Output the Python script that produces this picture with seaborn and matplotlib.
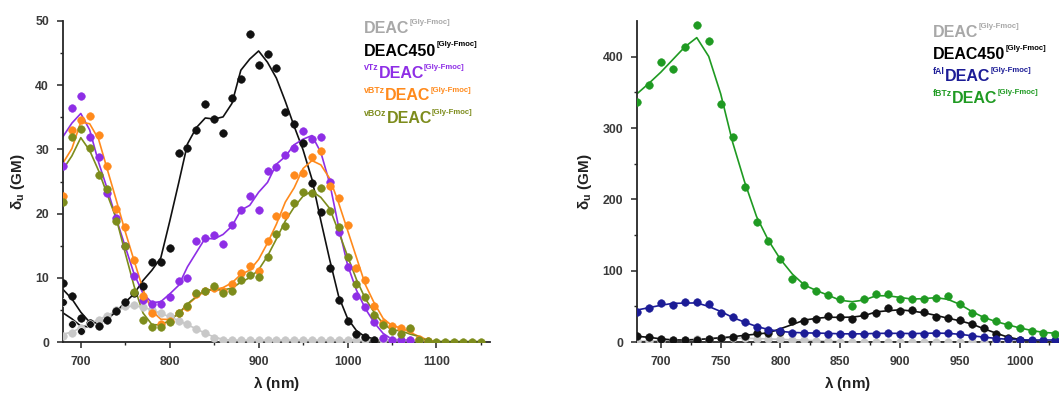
import numpy as np
import pandas as pd
import matplotlib
matplotlib.use("Agg")
import matplotlib.pyplot as plt
import seaborn as sns

# wavelength grid (nm), one point every 10 nm
wl = list(range(680, 1160, 10))

# left panel series (GM)
deac = [1.0, 1.5, 2.2, 3.0, 3.5, 4.0, 5.0, 5.6, 5.8, 5.5, 5.0, 4.5, 4.0, 3.3, 2.8, 2.0,
        1.4, 0.7, 0.3, 0.3, 0.3, 0.3, 0.3, 0.3, 0.3, 0.3, 0.3, 0.3, 0.3, 0.3, 0.3, 0.3,
        0.3, 0.3, 0.3, 0.3, 0.3, 0.3, 0.3, 0.3, 0.3]
deac450 = [9.2, 7.2, 3.8, 3.0, 2.5, 3.4, 4.8, 6.2, 7.6, 8.8, 12.4, 12.4, 14.6, 29.4,
           30.2, 33.0, 37.0, 34.7, 32.5, 38.0, 41.0, 48.0, 43.2, 44.8, 42.7, 35.8, 34.0,
           31.0, 24.8, 20.3, 11.6, 6.5, 3.3, 1.3, 0.8, 0.3]
deac450_rep = [6.3, 2.8, 1.8, 2.9]
vtz = [27.5, 36.5, 38.3, 32.0, 28.8, 23.2, 19.3, 15.0, 10.3, 6.5, 5.9, 6.0, 7.0, 9.5,
       10.0, 15.7, 16.2, 16.7, 15.3, 18.3, 20.6, 22.7, 20.6, 26.7, 27.3, 29.1, 30.3,
       32.8, 31.7, 32.0, 24.9, 17.2, 11.7, 7.2, 5.4, 3.1, 0.6, 0.4, 0.3, 0.4]
vbtz = [22.8, 33.0, 34.6, 35.2, 32.2, 27.4, 20.8, 18.0, 12.8, 7.2, 4.6, 2.8, 3.3, 4.5,
        5.5, 7.5, 8.0, 8.5, 8.0, 9.0, 10.7, 11.9, 11.0, 15.7, 19.6, 19.8, 26.0, 26.3,
        28.8, 29.7, 24.3, 22.4, 18.3, 11.6, 9.7, 5.6, 3.0, 2.5, 2.2, 2.0, 0.5, 0.2]
vboz = [21.8, 32.0, 33.2, 30.3, 26.0, 23.8, 18.9, 14.9, 7.8, 3.4, 2.4, 2.4, 3.2, 4.6,
        5.6, 7.7, 8.0, 8.8, 7.6, 8.0, 9.6, 10.4, 10.1, 13.3, 16.8, 18.1, 21.7, 23.3,
        23.2, 24.0, 20.4, 18.0, 13.2, 9.0, 7.1, 4.2, 2.6, 1.8, 1.3, 2.2, 0.3, 0.2, 0.1,
        0.1, 0.1, 0.1, 0.1, 0.1]

# right panel series (GM)
deac_r = [1.0, 1.5, 2.2, 3.0, 3.5, 4.0, 5.0, 5.6, 5.8, 5.5, 5.0, 4.5, 4.0, 3.3, 2.8,
          2.0, 1.4, 0.7, 0.3, 0.3, 0.3, 0.3, 0.3, 0.3, 0.3, 0.3, 0.3, 0.3, 0.3, 0.3,
          0.3, 0.3, 0.3, 0.3, 0.3, 0.3]
fal = [42, 48, 55, 52, 56, 56, 53, 41, 35, 28, 21, 17, 15, 13, 13, 13, 12, 12, 11, 12,
       12, 13, 12, 12, 12, 13, 13, 11, 9, 7, 5, 4, 3, 3, 3, 3]
fbtz = [336, 360, 392, 383, 413, 445, 422, 334, 288, 218, 168, 142, 117, 89, 80, 71,
        66, 60, 50, 60, 67, 68, 60, 60, 61, 62, 64, 54, 41, 34, 29, 24, 20, 16, 13, 12]

# legend pieces: (prefix superscript, main name)
left_names = [("", "DEAC"), ("", "DEAC450"), ("vTz", "DEAC"), ("vBTz", "DEAC"), ("vBOz", "DEAC")]
right_names = [("", "DEAC"), ("", "DEAC450"), ("fAl", "DEAC"), ("fBTz", "DEAC")]
suffix = "[Gly-Fmoc]"

left_series = [
    (deac, "#c8c8c8", "#a8a8a8"),
    (deac450, "#111111", "#000000"),
    (vtz, "#8e2ee6", "#8e2ee6"),
    (vbtz, "#ff8a1c", "#ff8a1c"),
    (vboz, "#7d8c1c", "#7d8c1c"),
]
right_series = [
    (deac_r, "#c8c8c8", "#a8a8a8"),
    (deac450[:36], "#111111", "#000000"),
    (fal, "#1c1c96", "#1c1c96"),
    (fbtz, "#1f9a22", "#1f9a22"),
]

sns.set_style("ticks")
plt.rcParams['font.family'] = ['Liberation Sans', 'DejaVu Sans']
plt.rcParams['mathtext.fontset'] = 'custom'
plt.rcParams['mathtext.rm'] = 'Liberation Sans:bold'
plt.rcParams['mathtext.it'] = 'Liberation Sans:bold'
plt.rcParams['mathtext.bf'] = 'Liberation Sans:bold'

W, H = 1059, 396


def smooth(vals):
    return pd.Series(vals).rolling(3, center=True, min_periods=1).mean().values


def draw(ax, series):
    for vals, col, _ in series:
        x = wl[:len(vals)]
        sns.lineplot(x=x, y=smooth(vals), color=col, lw=1.2, ax=ax)
        sns.scatterplot(x=x, y=vals, color=col, s=30, edgecolor=col, linewidth=0.4,
                        ax=ax, zorder=3)


def style(ax):
    sns.despine(ax=ax)
    ax.spines['left'].set_linewidth(1.3)
    ax.spines['bottom'].set_linewidth(1.3)
    ax.tick_params(which='major', direction='out', length=4, width=1.1, labelsize=8.8,
                   labelcolor='#3a3a3a', pad=6)
    ax.tick_params(which='minor', direction='out', length=2.5, width=1.0)
    for lab in ax.get_xticklabels() + ax.get_yticklabels():
        lab.set_fontweight('bold')
    ax.set_xlabel(r"$\lambda$ (nm)", fontsize=11, fontweight='bold', color='#222222',
                  labelpad=4)
    ax.set_ylabel(r"$\delta_u$ (GM)", fontsize=11, fontweight='bold', color='#222222',
                  labelpad=6)


def rich_label(fig, x0, y0, pre, name, color):
    r = fig.canvas.get_renderer()
    x = x0
    parts = []
    if pre:
        parts.append((pre, 6.3, 7.5))
    parts.append((name, 11.5, 0))
    parts.append((suffix, 5.6, 9.0))
    for txt, size, rise in parts:
        t = fig.text(x / W, 1 - (y0 - rise) / H, txt, color=color, fontsize=size,
                     fontweight='bold', va='baseline', ha='left')
        x += t.get_window_extent(renderer=r).width


fig = plt.figure(figsize=(10.59, 3.96), dpi=100)
ax1 = fig.add_axes([0.0595, 0.136, 0.403, 0.811])
ax2 = fig.add_axes([0.6015, 0.136, 0.3985, 0.811])

draw(ax1, left_series)
# repeated short DEAC450 measurement at the blue edge
sns.lineplot(x=wl[:len(deac450_rep)], y=smooth(deac450_rep), color="#111111", lw=1.2, ax=ax1)
sns.scatterplot(x=wl[:len(deac450_rep)], y=deac450_rep, color="#111111", s=30, ax=ax1, zorder=3)
draw(ax2, right_series)

ax1.set_xlim(680, 1160)
ax1.set_ylim(0, 50)
ax1.set_xticks([700, 800, 900, 1000, 1100])
ax1.set_xticks([750, 850, 950, 1050, 1150], minor=True)
ax1.set_yticks([0, 10, 20, 30, 40, 50])
ax1.set_yticks([5, 15, 25, 35, 45], minor=True)

ax2.set_xlim(680, 1033)
ax2.set_ylim(0, 450)
ax2.set_xticks([700, 750, 800, 850, 900, 950, 1000])
ax2.set_xticks([725, 775, 825, 875, 925, 975, 1025], minor=True)
ax2.set_yticks([0, 100, 200, 300, 400])
ax2.set_yticks([50, 150, 250, 350], minor=True)

style(ax1)
style(ax2)

# coloured text legends (baselines in pixels from top)
for i, ((pre, name), (_, _, tcol)) in enumerate(zip(left_names, left_series)):
    rich_label(fig, 364, 33 + 22.5 * i, pre, name, tcol)
for i, ((pre, name), (_, _, tcol)) in enumerate(zip(right_names, right_series)):
    rich_label(fig, 933, 37 + 22 * i, pre, name, tcol)

fig.savefig("out.png", dpi=100)
